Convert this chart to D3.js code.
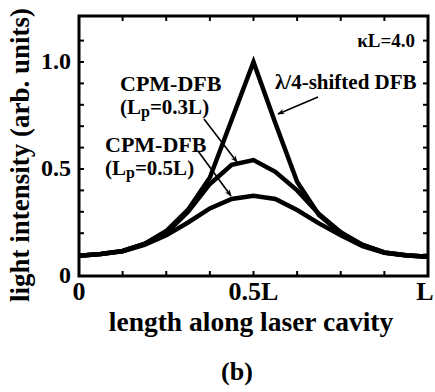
<!DOCTYPE html>
<html>
<head>
<meta charset="utf-8">
<title>light intensity along laser cavity</title>
<script src="https://cdn.jsdelivr.net/npm/d3@7"></script>
<style>
html, body {
  margin: 0;
  background: #fff;
}
svg text {
  font-family: "Liberation Serif", "Times New Roman", serif;
  font-weight: bold;
  fill: #000;
}
.frame {
  fill: none;
  stroke: #000;
  stroke-width: 3;
}
.tick {
  stroke: #000;
  stroke-width: 2;
}
.curve {
  fill: none;
  stroke: #000;
  stroke-width: 4.5;
  stroke-linejoin: miter;
}
.arrow {
  stroke: #000;
  stroke-width: 1.6;
}
</style>
</head>
<body>
<svg width="435" height="392"></svg>
<script>
// position along the cavity, as a fraction of L
var pos = [0, 0.0625, 0.125, 0.1875, 0.25, 0.3125, 0.375, 0.4375, 0.5,
           0.5625, 0.625, 0.6875, 0.75, 0.8125, 0.875, 0.9375, 1];

// light intensity (arb. units)
var lambda4 = [0.095, 0.103, 0.117, 0.15, 0.21, 0.31, 0.46, 0.73, 1.0,
               0.715, 0.44, 0.285, 0.2, 0.145, 0.11, 0.097, 0.09];
var cpm03   = [0.095, 0.103, 0.117, 0.15, 0.2, 0.3, 0.43, 0.52, 0.542,
               0.487, 0.40, 0.29, 0.205, 0.145, 0.11, 0.097, 0.09];
var cpm05   = [0.095, 0.103, 0.115, 0.145, 0.19, 0.25, 0.316, 0.36, 0.375,
               0.36, 0.308, 0.246, 0.19, 0.14, 0.108, 0.096, 0.09];

var xTicks = [0, 0.5, 1],  xLabels = ["0", "0.5L", "L"];
var yTicks = [0, 0.5, 1.0], yLabels = ["0", "0.5", "1.0"];
var xMinor = [0, 0.125, 0.25, 0.375, 0.5, 0.625, 0.75, 0.875, 1];
var yMinor = [0.1, 0.2, 0.3, 0.4, 0.5, 0.6, 0.7, 0.8, 0.9, 1.0, 1.1];

var svg = d3.select("svg");

var x = d3.scaleLinear().domain([0, 1]).range([79, 428]),
    y = d3.scaleLinear().domain([0, 1]).range([276, 62]),
    yTop = 1.215;

// arrow head
svg.append("defs").append("marker")
    .attr("id", "head")
    .attr("viewBox", "0 0 10 10")
    .attr("refX", 9).attr("refY", 5)
    .attr("markerWidth", 9).attr("markerHeight", 7)
    .attr("markerUnits", "userSpaceOnUse")
    .attr("orient", "auto")
  .append("path")
    .attr("d", "M0,1 L10,5 L0,9 L3,5 Z")
    .attr("fill", "#000");

var line = d3.line()
    .x(function(d, i) { return x(pos[i]); })
    .y(function(d) { return y(d); });

[lambda4, cpm03, cpm05].forEach(function(s) {
  svg.append("path")
      .attr("class", "curve")
      .attr("d", line(s));
});

// frame
svg.append("rect")
    .attr("class", "frame")
    .attr("x", x(0)).attr("y", y(yTop))
    .attr("width", x(1) - x(0))
    .attr("height", y(0) - y(yTop));

// inward ticks, bottom + top
xMinor.forEach(function(t) {
  svg.append("line").attr("class", "tick")
      .attr("x1", x(t)).attr("x2", x(t))
      .attr("y1", y(0)).attr("y2", y(0) - 5);
  svg.append("line").attr("class", "tick")
      .attr("x1", x(t)).attr("x2", x(t))
      .attr("y1", y(yTop)).attr("y2", y(yTop) + 5);
});
// inward ticks, left + right
yMinor.forEach(function(t) {
  svg.append("line").attr("class", "tick")
      .attr("x1", x(0)).attr("x2", x(0) + 5)
      .attr("y1", y(t)).attr("y2", y(t));
  svg.append("line").attr("class", "tick")
      .attr("x1", x(1)).attr("x2", x(1) - 5)
      .attr("y1", y(t)).attr("y2", y(t));
});

// tick labels (last one pulled in so it stays on the page)
xTicks.forEach(function(t, i) {
  svg.append("text")
      .attr("x", x(t)).attr("y", 300)
      .attr("dx", i == xTicks.length - 1 ? -3 : 0)
      .attr("text-anchor", "middle")
      .style("font-size", "26px")
      .text(xLabels[i]);
});
yTicks.forEach(function(t, i) {
  svg.append("text")
      .attr("x", 71).attr("y", y(t) + 7)
      .attr("text-anchor", "end")
      .style("font-size", "24px")
      .text(yLabels[i]);
});

// axis titles
svg.append("text")
    .attr("transform", "translate(29,155) rotate(-90)")
    .attr("text-anchor", "middle")
    .style("font-size", "27px")
    .text("light intensity (arb. units)");
svg.append("text")
    .attr("x", 251).attr("y", 331)
    .attr("text-anchor", "middle")
    .style("font-size", "27.5px")
    .text("length along laser cavity");
svg.append("text")
    .attr("x", 237).attr("y", 380)
    .attr("text-anchor", "middle")
    .style("font-size", "26px")
    .text("(b)");

// annotations
svg.append("text")
    .attr("x", 415).attr("y", 47)
    .attr("text-anchor", "end")
    .style("font-size", "19px")
    .text("\u03baL=4.0");
svg.append("text")
    .attr("x", 275).attr("y", 89)
    .style("font-size", "21px")
    .text("\u03bb/4-shifted DFB");

function cpmLabel(x0, y0, lp) {
  svg.append("text")
      .attr("x", x0).attr("y", y0)
      .style("font-size", "22px")
      .text("CPM-DFB");
  var t = svg.append("text")
      .attr("x", x0).attr("y", y0 + 23)
      .style("font-size", "21px");
  t.append("tspan").text("(L");
  t.append("tspan").attr("dy", 3).style("font-size", "16px").text("p");
  t.append("tspan").attr("dy", -3).text("=" + lp + ")");
}
cpmLabel(120, 91, "0.3L");
cpmLabel(105, 152, "0.5L");

function arrow(x1, y1, x2, y2) {
  svg.append("line").attr("class", "arrow")
      .attr("x1", x1).attr("y1", y1)
      .attr("x2", x2).attr("y2", y2)
      .attr("marker-end", "url(#head)");
}
arrow(318, 97, 278, 114);
arrow(204, 119, 237, 162);
arrow(198, 151, 231, 196);
</script>
</body>
</html>
